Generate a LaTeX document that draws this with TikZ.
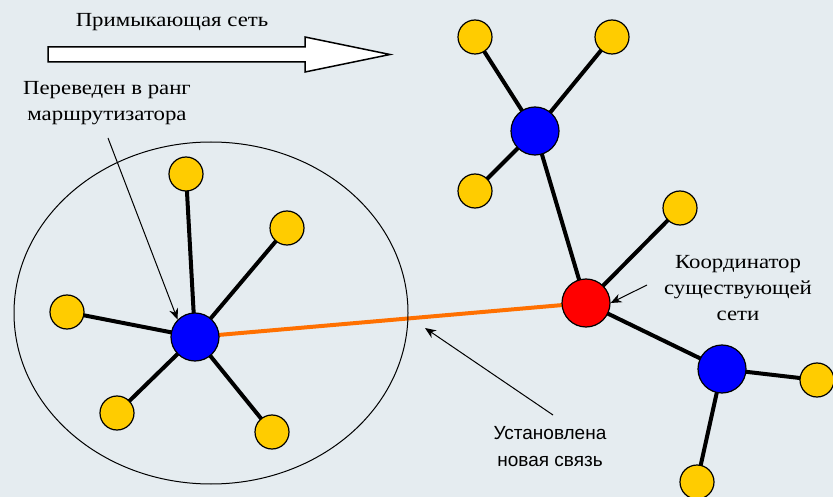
\documentclass[tikz,border=0pt]{standalone}
\usepackage{fontspec}
\newfontfamily\labserif[FakeStretch=1.14]{Liberation Serif}
\newfontfamily\labsans{Liberation Sans}
\usetikzlibrary{arrows.meta,shapes.geometric}
\pgfdeclarelayer{bg}
\pgfdeclarelayer{edges}
\pgfsetlayers{bg,edges,main}
\definecolor{paper}{HTML}{E5ECF0}
\definecolor{member}{HTML}{FFCC00}
\definecolor{router}{HTML}{0000FF}
\definecolor{coord}{HTML}{FF0000}
\definecolor{newlink}{HTML}{FF7000}
\tikzset{
  leaf/.style={circle, draw=black, line width=1.2pt, fill=member, minimum size=34pt, inner sep=0pt},
  hub/.style={circle, draw=black, line width=1.2pt, fill=router, minimum size=48pt, inner sep=0pt},
  head/.style={circle, draw=black, line width=1.2pt, fill=coord, minimum size=48pt, inner sep=0pt},
  link/.style={line width=4pt, black},
  fresh/.style={line width=4pt, newlink},
  pointer/.style={line width=1pt, black, -{Stealth[length=11pt,width=9pt]}},
  caption/.style={font=\labserif\fontsize{20}{26}\selectfont, align=center, inner sep=0pt},
}
\begin{document}
\begin{tikzpicture}[x=1pt, y=-1pt]
\begin{pgfonlayer}{bg}
  \fill[paper] (0,0) rectangle (833,497);
\end{pgfonlayer}
\useasboundingbox (0,0) rectangle (833,497);

% joining network arrow
\draw[line width=1.5pt, fill=white] (48,47) -- (305,47) -- (305,37) -- (390,54.5)
  -- (305,72) -- (305,62) -- (48,62) -- cycle;
\node[caption] (joinlbl) at (172,22) {Примыкающая сеть};

% new router and its members
\node[hub] (r1) at (195,337) {};
\node[leaf] (a1) at (186,174) {};
\node[leaf] (a2) at (287,228) {};
\node[leaf] (a3) at (67,312) {};
\node[leaf] (a4) at (117,413) {};
\node[leaf] (a5) at (272,432) {};
\node[draw=black, line width=1pt, ellipse, minimum width=394pt, minimum height=342pt, inner sep=0pt] (zone) at (211,313) {};

% existing network
\node[head] (c) at (586,303) {};
\node[hub] (r2) at (535,131) {};
\node[leaf] (b1) at (475,37) {};
\node[leaf] (b2) at (612,37) {};
\node[leaf] (b3) at (475,191) {};
\node[leaf] (b4) at (680,208) {};
\node[hub] (r3) at (722,369) {};
\node[leaf] (b5) at (817,380) {};
\node[leaf] (b6) at (697,482) {};

\begin{pgfonlayer}{edges}
  \foreach \m in {a1,a2,a3,a4,a5} \draw[link] (r1.center) -- (\m.center);
  \foreach \m in {b1,b2,b3} \draw[link] (r2.center) -- (\m.center);
  \foreach \m in {b5,b6} \draw[link] (r3.center) -- (\m.center);
  \draw[link] (c.center) -- (r2.center);
  \draw[link] (c.center) -- (b4.center);
  \draw[link] (c.center) -- (r3.center);
  \draw[fresh] (r1.center) -- (c.center);
\end{pgfonlayer}

% labels with pointers
\node[caption] (routerlbl) at (107,103) {Переведен в ранг\\маршрутизатора};
\coordinate (routertail) at (108,138);
\draw[pointer] (routertail) -- (r1.north west);

\node[caption] (coordlbl) at (738,288) {Координатор\\существующей\\сети};
\coordinate (coordtail) at (647,285);
\draw[pointer] (coordtail) -- (c.east);

\node[caption, font=\labsans\fontsize{19}{27}\selectfont] (linklbl) at (550,447) {Установлена\\новая связь};
\coordinate (linktail) at (553,415);
\coordinate (linktip) at (425,328);
\draw[pointer] (linktail) -- (linktip);
\end{tikzpicture}
\end{document}
